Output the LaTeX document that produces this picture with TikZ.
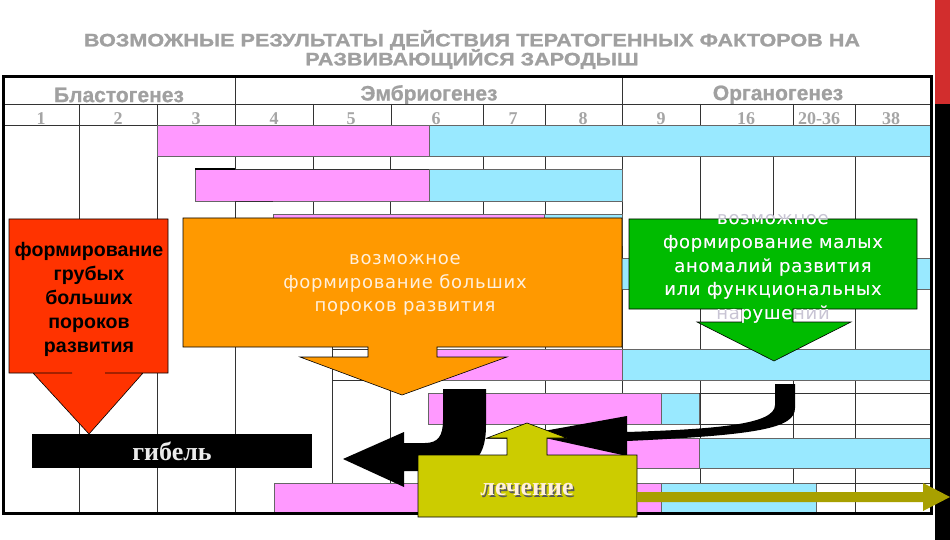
\documentclass[tikz,border=0pt]{standalone}
\usepackage{fontspec}
\setmainfont{Liberation Serif}
\newfontfamily\titlefnt[FakeStretch=1.2,FakeBold=1.2]{Liberation Sans}
\newfontfamily\hdrfnt[FakeBold=0.8]{Liberation Sans}
\newfontfamily\lsans{Liberation Sans}
\newfontfamily\lserif{Liberation Serif}
\newfontfamily\dvs[LetterSpace=4]{DejaVu Sans}
\definecolor{pinkc}{RGB}{255,153,255}
\definecolor{cyanc}{RGB}{153,233,255}
\definecolor{orangec}{RGB}{255,153,0}
\definecolor{redc}{RGB}{255,51,0}
\definecolor{greenc}{RGB}{0,187,0}
\definecolor{yellowc}{RGB}{204,204,0}
\definecolor{olivec}{RGB}{168,160,0}
\definecolor{barred}{RGB}{210,45,45}
\definecolor{hdrgray}{RGB}{160,160,160}
\definecolor{numgray}{RGB}{165,165,165}
\definecolor{creamc}{RGB}{255,240,220}
\definecolor{ghostc}{RGB}{200,196,212}
\begin{document}
\begin{tikzpicture}[x=1pt,y=-1pt,
  gridl/.style={line width=0.7pt, draw=black!80},
  pinkbar/.style={fill=pinkc, draw=black!60, line width=0.4pt},
  cyanbar/.style={fill=cyanc, draw=black!60, line width=0.4pt},
  callout/.style={draw=black, line width=0.6pt, line join=miter},
  titletext/.style={font=\titlefnt\bfseries\fontsize{18}{18}\selectfont, text=hdrgray, inner sep=0},
  hdrtext/.style={font=\hdrfnt\bfseries\fontsize{21}{21}\selectfont, text=hdrgray, inner sep=0},
  numtext/.style={font=\lserif\bfseries\fontsize{18}{18}\selectfont, text=numgray, inner sep=0},
  boxtext/.style={font=\dvs\fontsize{18}{23.8}\selectfont, align=center, inner sep=0},
  redtext/.style={font=\lsans\bfseries\fontsize{19.6}{24}\selectfont, align=center, inner sep=0, text=black},
  serifbig/.style={font=\lserif\bfseries\fontsize{26}{26}\selectfont, inner sep=0}
]
\useasboundingbox (0,0) rectangle (950,540);
\fill[white] (0,0) rectangle (950,540);

% right side bar
\fill[barred] (935,0) rectangle (950,104);
\fill[black] (935,104) rectangle (950,540);

% title
\node[titletext] (t1) at (472,40) {ВОЗМОЖНЫЕ РЕЗУЛЬТАТЫ ДЕЙСТВИЯ ТЕРАТОГЕННЫХ ФАКТОРОВ НА};
\node[titletext] (t2) at (472,59) {РАЗВИВАЮЩИЙСЯ ЗАРОДЫШ};

% header texts
\node[hdrtext] (hb) at (119,95) {Бластогенез};
\node[hdrtext] (he) at (429,95) {Эмбриогенез};
\node[hdrtext] (ho) at (778,95) {Органогенез};
\foreach \xx/\lab [count=\i] in {41/1,118/2,196/3,274/4,351/5,436/6,513/7,583/8,661/9,746/16,819/20-36,891/38}
  \node[numtext] (n\i) at (\xx,119) {\lab};

% body column lines
\foreach \xx in {79,157,235,313,390,483,545,622,700,773,855}
  \draw[gridl] (\xx,125) -- (\xx,347);
\foreach \xx in {79,157,235,332,390,545,622,700,793,855}
  \draw[gridl] (\xx,347) -- (\xx,513);

% header lines
\draw[gridl] (3,104) -- (931,104);
\draw[gridl] (3,125) -- (931,125);
\foreach \xx in {235,622}
  \draw[gridl] (\xx,77) -- (\xx,104);
\foreach \xx in {79,157,235,313,391,483,545,622,700,793,855}
  \draw[gridl] (\xx,104) -- (\xx,125);

% bars
\draw[pinkbar] (157,125) rectangle (429,156);
\draw[cyanbar] (429,125) rectangle (930,156);
\draw[pinkbar] (195,169) rectangle (429,201);
\draw[cyanbar] (429,169) rectangle (622,201);
\draw[pinkbar] (273,214) rectangle (544,245);
\draw[cyanbar] (544,214) rectangle (622,245);
\draw[pinkbar] (313,258) rectangle (544,289);
\draw[cyanbar] (544,258) rectangle (930,289);
\draw[pinkbar] (390,349) rectangle (622,380);
\draw[cyanbar] (622,349) rectangle (930,380);
\draw[pinkbar] (428,393) rectangle (661,424);
\draw[cyanbar] (661,393) rectangle (699,424);
\draw[pinkbar] (520,438) rectangle (699,468);
\draw[cyanbar] (699,438) rectangle (930,468);
\draw[pinkbar] (274,483) rectangle (661,513);
\draw[cyanbar] (661,483) rectangle (816,513);

% row extension lines
\draw[gridl] (235,201) -- (273,201);
\draw[gridl] (235,169) -- (429,169);
\draw[gridl] (332,349) -- (390,349);
\draw[gridl] (332,380) -- (390,380);
\draw[gridl] (699,393) -- (930,393);
\draw[gridl] (699,424) -- (930,424);
\draw[gridl] (486,438) -- (520,438);
\draw[gridl] (486,468) -- (520,468);
\draw[gridl] (816,483) -- (930,483);
\draw[line width=2.5pt] (195,169) -- (235,169);

% outer frame
\draw[line width=3pt] (3,77) rectangle (931,513);

% red callout
\draw[callout, fill=redc] (9,219) -- (168,219) -- (168,373) -- (105,373) -- (143,373) -- (89,434) -- (33,373) -- (72,373) -- (9,373) -- cycle;
\node[redtext] (rt) at (89,299) {формирование\\грубых\\больших\\пороков\\развития};

% orange callout
\draw[callout, fill=orangec] (183,218) -- (622,218) -- (622,347) -- (437,347) -- (437,357) -- (507,357) -- (402,395) -- (300,357) -- (368,357) -- (368,347) -- (183,347) -- cycle;
\node[boxtext, text=creamc] (ot) at (405,285) {возможное\\формирование больших\\пороков развития};

% green callout
\def\greenpath{(629,219) -- (917,219) -- (917,309) -- (793,309) -- (793,322) -- (851,322) -- (774,361) -- (697,322) -- (742,322) -- (742,309) -- (629,309) -- cycle}
\draw[callout, fill=greenc] \greenpath;
\node[boxtext, text=ghostc] (gtg) at (773,269) {возможное\\формирование малых\\аномалий развития\\или функциональных\\нарушений};
\begin{scope}
\clip \greenpath;
\node[boxtext, text=white] (gt) at (773,269) {возможное\\формирование малых\\аномалий развития\\или функциональных\\нарушений};
\end{scope}

% death box
\node[fill=black, minimum width=280pt, minimum height=34pt, inner sep=0, text=black!8, font=\lserif\bfseries\fontsize{26}{26}\selectfont] (gib) at (172,451) {гибель};

% black arrows
\fill[black] (443,389) -- (486,389) -- (486,425) .. controls (486,462) and (470,471) .. (430,471) -- (404,471) -- (404,487) -- (343,459) -- (404,432) -- (404,443) -- (425,443) .. controls (438,443) and (443,436) .. (443,420) -- cycle;
\fill[black] (775,384) -- (795,384) -- (795,408) .. controls (795,428) and (760,435) .. (627,441) -- (627,456) -- (527,434) -- (627,416) -- (627,432) .. controls (720,429) and (775,424) .. (775,405) -- cycle;

% treatment callout
\draw[callout, fill=yellowc] (418,517) -- (637,517) -- (637,455) -- (547,455) -- (547,438) -- (567,438) -- (527,423) -- (487,438) -- (507,438) -- (507,455) -- (418,455) -- cycle;
\node[serifbig, text=black!65] (lsh) at (528.5,491.5) {лечение};
\node[serifbig, text=creamc] (lt) at (527,490) {лечение};

% olive arrow
\fill[olivec] (637,492) -- (923,492) -- (923,483) -- (950,497) -- (923,511) -- (923,502) -- (637,502) -- cycle;
\end{tikzpicture}
\end{document}
